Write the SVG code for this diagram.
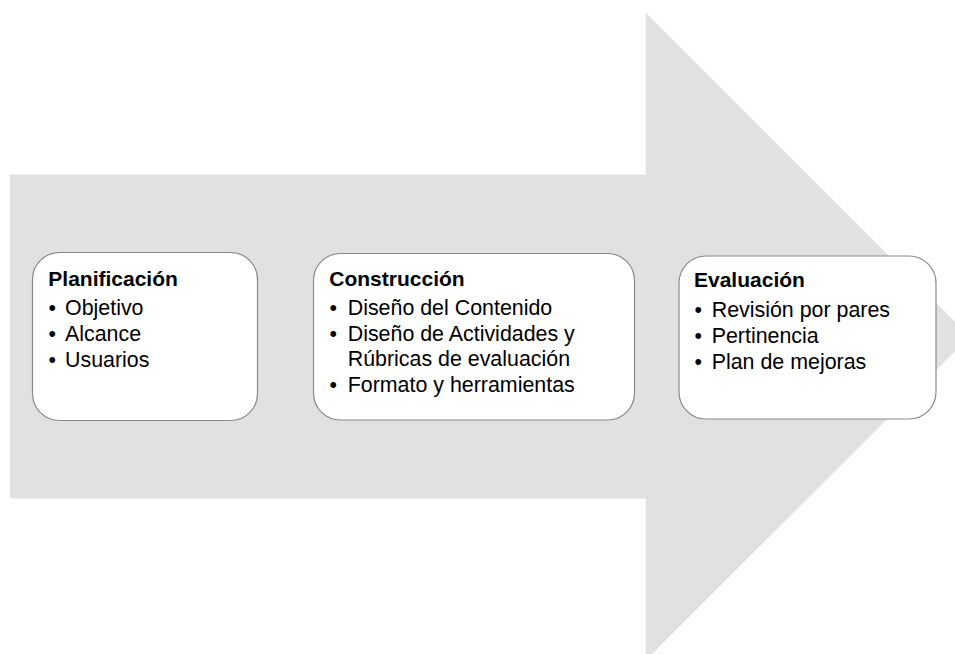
<svg xmlns="http://www.w3.org/2000/svg" width="955" height="654" viewBox="0 0 955 654">
<style>
.box{fill:#ffffff;stroke:#8a8a8a;stroke-width:1.2}
.t{font-family:"Liberation Sans",Arial,sans-serif;font-size:21.4px;fill:#000000}
.b{font-weight:bold;font-size:21px}
</style>
<rect width="955" height="654" fill="#ffffff"/>
<g id="arrow">
<path d="M10,174.5 H645.7 V12.7 L969.7,336.5 L645.7,660.3 V498.5 H10 Z" fill="#e1e1e1"/>
</g>
<g id="connectors"></g>
<g id="planificacion">
<rect class="box" x="32.5" y="252.5" width="225" height="168" rx="27" ry="27"/>
<text class="t b" x="48.3" y="285.7">Planificación</text>
<text class="t" x="48.5" y="315">•</text><text class="t" x="65" y="315">Objetivo</text>
<text class="t" x="48.5" y="341">•</text><text class="t" x="65" y="341">Alcance</text>
<text class="t" x="48.5" y="366.5">•</text><text class="t" x="65" y="366.5">Usuarios</text>
</g>
<g id="construccion">
<rect class="box" x="313.5" y="253.5" width="321" height="166.5" rx="27" ry="27"/>
<text class="t b" x="329.3" y="285.7">Construcción</text>
<text class="t" x="329.5" y="315">•</text><text class="t" x="347.7" y="315">Diseño del Contenido</text>
<text class="t" x="329.5" y="340.5">•</text><text class="t" x="347.7" y="340.5">Diseño de Actividades y</text>
<text class="t" x="347.7" y="365.5">Rúbricas de evaluación</text>
<text class="t" x="329.5" y="391.5">•</text><text class="t" x="347.7" y="391.5">Formato y herramientas</text>
</g>
<g id="evaluacion">
<rect class="box" x="679" y="256" width="257" height="163" rx="27" ry="27"/>
<text class="t b" x="694" y="287.3">Evaluación</text>
<text class="t" x="694.5" y="316.7">•</text><text class="t" x="711.7" y="316.7">Revisión por pares</text>
<text class="t" x="694.5" y="343">•</text><text class="t" x="711.7" y="343">Pertinencia</text>
<text class="t" x="694.5" y="369">•</text><text class="t" x="711.7" y="369">Plan de mejoras</text>
</g>
</svg>
